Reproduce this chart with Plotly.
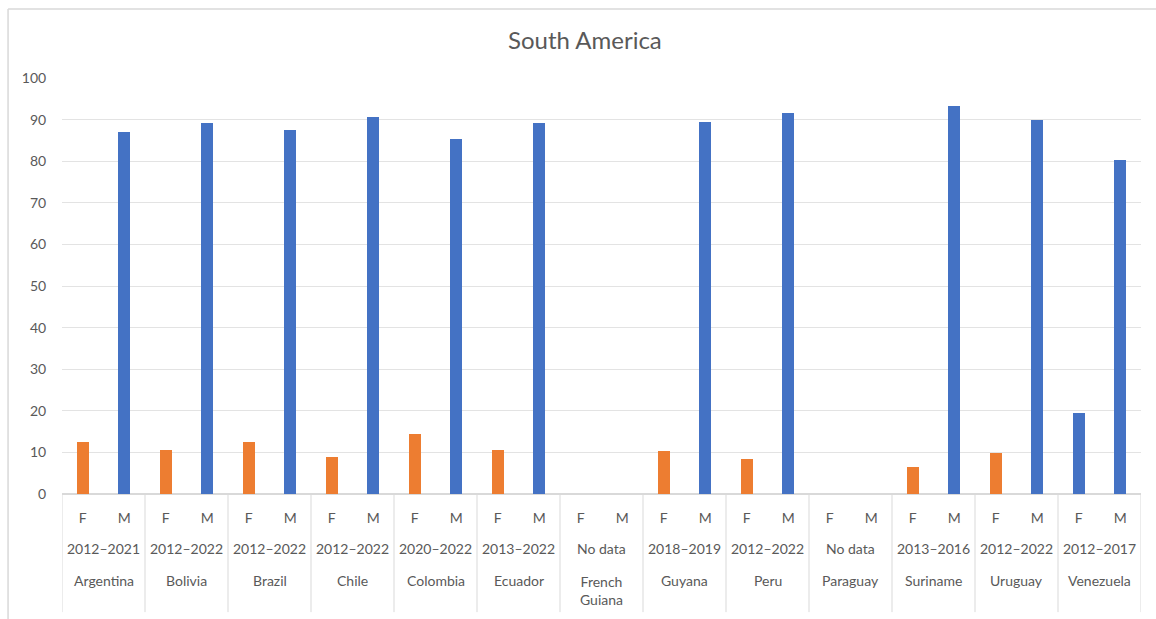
import plotly.graph_objects as go

# ---- data ----
countries = ["Argentina", "Bolivia", "Brazil", "Chile", "Colombia", "Ecuador",
             "French<br>Guiana", "Guyana", "Peru", "Paraguay", "Suriname",
             "Uruguay", "Venezuela"]
periods = ["2012–2021", "2012–2022", "2012–2022", "2012–2022", "2020–2022",
           "2013–2022", "No data", "2018–2019", "2012–2022", "No data",
           "2013–2016", "2012–2022", "2012–2017"]
sexes = ["F", "M"]
female = [12.6, 10.6, 12.4, 9.0, 14.4, 10.6, None, 10.4, 8.3, None, 6.5, 9.8, 19.4]
male = [87.1, 89.2, 87.4, 90.7, 85.4, 89.3, None, 89.4, 91.6, None, 93.3, 90.0, 80.3]
y_ticks = [0, 10, 20, 30, 40, 50, 60, 70, 80, 90, 100]

ORANGE = "#ED7D31"
BLUE = "#4472C4"
TEXT = "#595959"
GRID = "#D9D9D9"
FONT = "Lato"

n = len(countries)
xs, ys, cols, labels = [], [], [], []
for i in range(n):
    for j, s in enumerate(sexes):
        xs.append(2 * i + j)
        v = female[i] if s == "F" else male[i]
        ys.append(v)
        labels.append(s)
        # In the source chart Venezuela's F bar is drawn in the blue series colour
        if s == "F" and countries[i] != "Venezuela":
            cols.append(ORANGE)
        else:
            cols.append(BLUE)

fig = go.Figure()
fig.add_trace(go.Bar(x=xs, y=ys, marker=dict(color=cols, line=dict(width=0)),
                     width=0.3, showlegend=False))

shapes = []
# category separators below the axis
for i in range(n + 1):
    shapes.append(dict(type="line", xref="x", yref="paper",
                       x0=2 * i - 0.5, x1=2 * i - 0.5, y0=0, y1=-0.284,
                       line=dict(color=GRID, width=1)))
# outer chart border (left + top)
shapes.append(dict(type="line", xref="paper", yref="paper",
                   x0=-0.05, x1=-0.05, y0=-0.4, y1=1.166,
                   line=dict(color=GRID, width=1.5)))
shapes.append(dict(type="line", xref="paper", yref="paper",
                   x0=-0.05, x1=1.02, y0=1.166, y1=1.166,
                   line=dict(color=GRID, width=1.5)))

annotations = []
for i in range(n):
    cx = 2 * i + 0.5
    annotations.append(dict(x=cx, y=-0.132, xref="x", yref="paper",
                            text=periods[i], showarrow=False,
                            font=dict(family=FONT, size=14, color=TEXT),
                            xanchor="center", yanchor="middle"))
    annotations.append(dict(x=cx, y=-0.209, xref="x", yref="paper",
                            text=countries[i], showarrow=False,
                            font=dict(family=FONT, size=14, color=TEXT),
                            xanchor="center", yanchor="top" if "<br>" in countries[i] else "middle",
                            yshift=10 if "<br>" in countries[i] else 0))

TRANSPARENT = "rgba(0,0,0,0)"
fig.update_layout(
    width=1156, height=619,
    margin=dict(l=62, r=15, t=78, b=125),
    paper_bgcolor="white", plot_bgcolor="white",
    title=dict(text="South America", x=0.506, xanchor="center", y=0.935,
               yanchor="middle",
               font=dict(family=FONT, size=24, color=TEXT)),
    font=dict(family=FONT, size=14, color=TEXT),
    xaxis=dict(range=[-0.5, 2 * n - 0.5], tickvals=xs, ticktext=labels,
               showgrid=False, zeroline=False, showline=False,
               ticks="outside", ticklen=11, tickcolor=TRANSPARENT,
               tickfont=dict(family=FONT, size=14, color=TEXT),
               fixedrange=True),
    yaxis=dict(range=[0, 100], tickvals=y_ticks, showgrid=True,
               gridcolor="#E3E3E3", gridwidth=1, zeroline=True,
               zerolinecolor=GRID, zerolinewidth=1.5, showline=False,
               ticks="outside", ticklen=12, tickcolor=TRANSPARENT,
               tickfont=dict(family=FONT, size=14, color=TEXT)),
    shapes=shapes,
    annotations=annotations,
    bargap=0,
)

fig.write_html("out.html")
